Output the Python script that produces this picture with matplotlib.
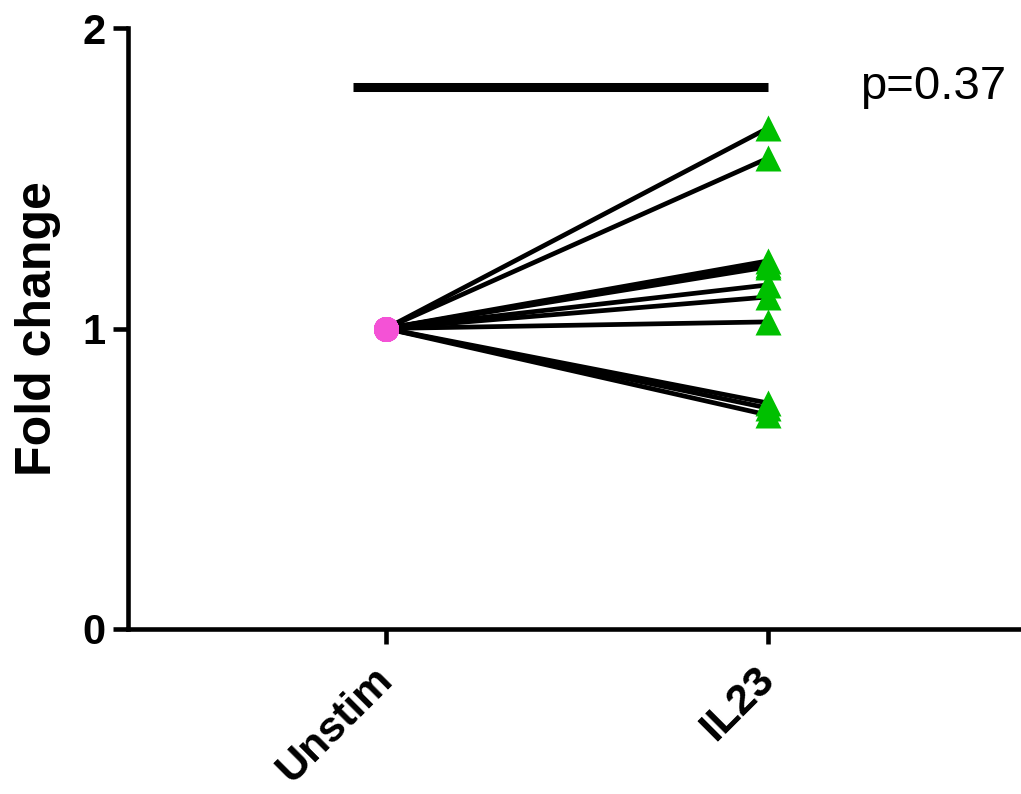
import matplotlib.pyplot as plt
import matplotlib.transforms as mtransforms

plt.rcParams['font.family'] = ['Liberation Sans', 'DejaVu Sans']

# paired samples: baseline fold change is 1 for every donor
groups = ['Unstim', 'IL23']
unstim = [1.0] * 11
il23 = [1.667, 1.567, 1.225, 1.211, 1.205, 1.145, 1.105, 1.022, 0.752, 0.735, 0.712]
p_text = 'p=0.37'
bar_y = 1.804

fig = plt.figure(figsize=(10.21, 7.94), dpi=100)
ax = fig.add_axes([128 / 1021, 1 - 629 / 794, (1021 - 128) / 1021, (629 - 28) / 794])

for a, b in zip(unstim, il23):
    ax.plot([0, 1], [a, b], color='black', lw=3.4, zorder=1, solid_capstyle='butt')

ax.plot([0] * len(unstim), unstim, 'o', color='#f452d6', ms=18, mec='none', zorder=3)
ax.plot([1] * len(il23), il23, '^', color='#00c000', ms=18.5, mec='none', zorder=3)

# significance bar
ax.plot([-0.085, 1.0], [bar_y, bar_y], color='black', lw=6.5, solid_capstyle='butt')
ax.text(1.24, bar_y, p_text, fontsize=34, ha='left', va='center')

ax.set_xlim(-0.675, 1.662)
ax.set_ylim(0, 2)
ax.set_yticks([0, 1, 2])
ax.set_xticks([0, 1])
ax.set_xticklabels(groups, rotation=45, ha='right', va='center', rotation_mode='anchor',
                   fontsize=31, fontweight='bold')
shift = mtransforms.ScaledTranslation(-8.5 / 100, 0, fig.dpi_scale_trans)
for lab in ax.get_xticklabels():
    lab.set_transform(lab.get_transform() + shift)
for lab in ax.get_yticklabels():
    lab.set_fontsize(30)
    lab.set_fontweight('bold')
ax.set_ylabel('Fold change', fontsize=36, fontweight='bold')
ax.yaxis.set_label_coords(-0.075, 0.5)

for side in ['top', 'right']:
    ax.spines[side].set_visible(False)
for side in ['left', 'bottom']:
    ax.spines[side].set_linewidth(3.3)
ax.tick_params(width=3.3, length=11)
ax.tick_params(axis='x', pad=21)
ax.tick_params(axis='y', pad=5)

fig.savefig('out.png', dpi=100)
